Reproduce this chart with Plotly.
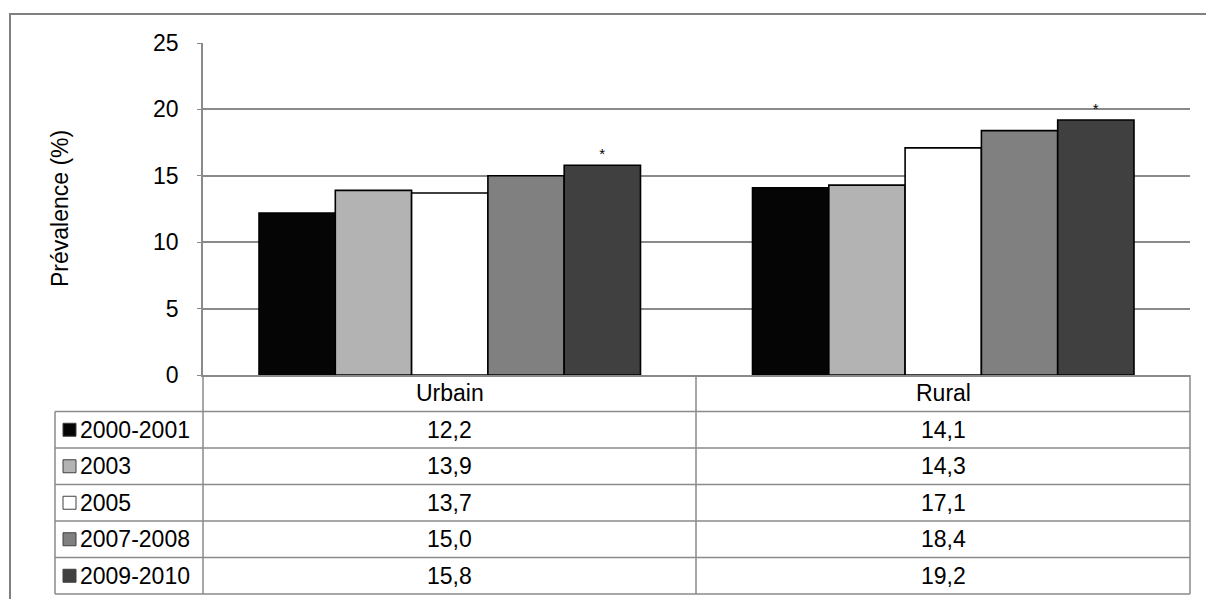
import plotly.graph_objects as go

categories = ["Urbain", "Rural"]
series_names = ["2000-2001", "2003", "2005", "2007-2008", "2009-2010"]
values_2000_2001 = [12.2, 14.1]
values_2003 = [13.9, 14.3]
values_2005 = [13.7, 17.1]
values_2007_2008 = [15.0, 18.4]
values_2009_2010 = [15.8, 19.2]
all_values = [values_2000_2001, values_2003, values_2005, values_2007_2008, values_2009_2010]
significance = ["*", "*"]  # shown above the last period
y_ticks = [0, 5, 10, 15, 20, 25]

colors = ["#050505", "#b3b3b3", "#ffffff", "#808080", "#404040"]
GRID = "#8a8a8a"
FONT = "Liberation Sans, Arial, sans-serif"

W, H = 1206, 599


def px(x):
    return x / W


def py(y):
    return 1 - y / H


fig = go.Figure()

for i, (name, vals) in enumerate(zip(series_names, all_values)):
    last = i == len(series_names) - 1
    fig.add_trace(go.Bar(
        x=categories,
        y=vals,
        name=name,
        marker=dict(color=colors[i], line=dict(color="#000000", width=1.6)),
        text=significance if last else None,
        textposition="outside" if last else "none",
        textfont=dict(size=15, color="#000000"),
        cliponaxis=False,
        showlegend=False,
    ))

# table geometry (pixels)
left_axis, mid_col, right_col, legend_left = 203, 696, 1190, 55
row_lines = [375, 411.5, 448, 484.5, 521, 557.5, 594]

shapes = []
line = dict(color=GRID, width=1.5)
for x in [left_axis, mid_col, right_col]:
    shapes.append(dict(type="line", xref="paper", yref="paper",
                       x0=px(x), x1=px(x), y0=py(375), y1=py(row_lines[-1]), line=line))
shapes.append(dict(type="line", xref="paper", yref="paper",
                   x0=px(legend_left), x1=px(legend_left), y0=py(row_lines[1]), y1=py(row_lines[-1]), line=line))
for y in row_lines[1:]:
    shapes.append(dict(type="line", xref="paper", yref="paper",
                       x0=px(legend_left), x1=px(right_col), y0=py(y), y1=py(y), line=line))

# outer chart frame
shapes.append(dict(type="rect", xref="paper", yref="paper",
                   x0=px(10), x1=1.02, y0=-0.02, y1=py(14),
                   line=dict(color="#808080", width=2), fillcolor="rgba(0,0,0,0)", layer="below"))

txt = dict(size=23, color="#000000", family=FONT)
annotations = []
col_centers = [(left_axis + mid_col) / 2, (mid_col + right_col) / 2]
hdr_mid = (row_lines[0] + row_lines[1]) / 2
for c, cat in zip(col_centers, categories):
    annotations.append(dict(xref="paper", yref="paper", x=px(c), y=py(hdr_mid), text=cat,
                            xanchor="center", yanchor="middle", showarrow=False, font=txt))

for i, (name, vals) in enumerate(zip(series_names, all_values)):
    mid = (row_lines[i + 1] + row_lines[i + 2]) / 2
    shapes.append(dict(type="rect", xref="paper", yref="paper",
                       x0=px(63), x1=px(76), y0=py(mid + 6.5), y1=py(mid - 6.5),
                       fillcolor=colors[i], line=dict(color="#404040", width=1)))
    annotations.append(dict(xref="paper", yref="paper", x=px(78), y=py(mid), text=name,
                            xanchor="left", yanchor="middle", showarrow=False, font=txt))
    for c, v in zip(col_centers, vals):
        annotations.append(dict(xref="paper", yref="paper", x=px(c), y=py(mid),
                                text=f"{v:.1f}".replace(".", ","),
                                xanchor="center", yanchor="middle", showarrow=False, font=txt))

annotations.append(dict(xref="paper", yref="paper", x=px(60), y=py(209), text="Prévalence (%)",
                        textangle=-90, xanchor="center", yanchor="middle",
                        showarrow=False, font=txt))

fig.update_layout(
    width=W,
    height=H,
    paper_bgcolor="#ffffff",
    plot_bgcolor="#ffffff",
    margin=dict(l=0, r=0, t=0, b=0, autoexpand=False),
    barmode="group",
    bargap=0.227,
    bargroupgap=0,
    font=dict(family=FONT, size=23, color="#000000"),
    shapes=shapes,
    annotations=annotations,
)

fig.update_xaxes(
    domain=[px(left_axis), px(right_col)],
    showticklabels=False,
    showgrid=False,
    showline=True,
    linecolor=GRID,
    linewidth=1.5,
    zeroline=False,
    ticks="",
    automargin=False,
)

fig.update_yaxes(
    domain=[py(375), py(43)],
    range=[0, 25],
    tickvals=y_ticks,
    showgrid=True,
    gridcolor=GRID,
    gridwidth=1.5,
    showline=True,
    linecolor=GRID,
    linewidth=1.5,
    zeroline=False,
    ticks="outside",
    ticklen=4,
    tickcolor=GRID,
    ticklabelstandoff=14,
    tickfont=txt,
    automargin=False,
)

# pin the figure to the window corner so the page has no margin around it
pin = (
    "document.body.style.margin='0';"
    "var gd=document.getElementById('{plot_id}');"
    "gd.style.position='fixed';gd.style.left='0';gd.style.top='0';"
)

fig.write_html("out.html", post_script=pin, config={"displayModeBar": False})
